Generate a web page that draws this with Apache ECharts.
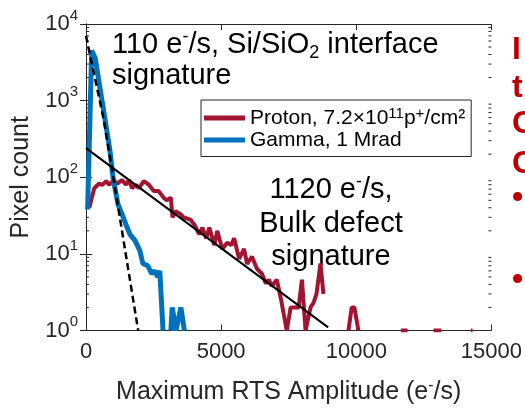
<!DOCTYPE html>
<html>
<head>
<meta charset="utf-8">
<script src="https://cdn.jsdelivr.net/npm/echarts@6.0.0/dist/echarts.min.js"></script>
<style>
  html, body { margin: 0; padding: 0; background: #fff; }
  #chart { width: 525px; height: 410px; }
</style>
</head>
<body>
<div id="chart"></div>
<script>
const FONT = 'Liberation Sans, Arial, sans-serif'
const AXIS_COLOR = '#262626'

const xTicks = [0, 5000, 10000, 15000]
const yDecades = [1, 10, 100, 1000, 10000]

// proton, 7.2e11 p+/cm2  ('-' = empty bin, line breaks)
const protonAmp = [
  121, 305, 488, 598, 745, 855, 1039, 1149, 1332, 1479, 1590, 1700, 1847, 1957,
  2140, 2324, 2508, 2691, 2875, 2985, 3140, 3200, 3315, 3498, 3609, 3866, 4012,
  4190, 4306, 4453, 4563, 4747, 4857, 5040, 5224, 5371, 5481, 5665, 5848, 5958,
  6142, 6325, 6509, 6656, 6766, 6876, 7060, 7220, 7427, 7573, 7684, 7867, 7990,
  8124, 8308, 8418, 8528, 8675, 8785, 9200, 9710, 9830, 9930, 10080, 10900,
  11650, 11900, 12400, 12860, 13150, 13700, 14240, 14300
]
const protonCount = [
  40, 72, 83, 79, 89, 80, 92, 82, 92, 80, 92, 72, 80, 72,
  89, 80, 66, 66, 54, 50, 54, 30, 36, 33, 30, 28, 24,
  18, 22, 16, 22, 13, 20, 11.6, 14, 13, 16, 8.6, 11.6, 7.4,
  9.2, 6.4, 5.5, 4.1, 4.6, 3.8, 4.6, 2.5, 1, 2, 2, 2, 4.6,
  1, 2, 2.3, 3, 7.5, 3, '-', 1, 2, 2, 1, '-',
  1, 1, '-', 1, 1, '-', 1, 1
]

// gamma, 1 Mrad
const gammaAmp = [
  60, 210, 340, 525, 708, 892, 1002, 1186, 1333, 1479, 1626, 1810, 1993, 2103,
  2287, 2434, 2544, 2654, 2730, 2850, 3000, 3140, 3190, 3330, 3510, 3640
]
const gammaCount = [
  38, 4500, 3600, 1400, 560, 215, 97, 44, 33, 24, 18, 15, 11, 7.5,
  7, 5.5, 6, 5, 6, 1, '-', 1, 2, 1, 2, 1
]

// exponential fits
const bulkFitAmp = [0, 8960]
const bulkFitCount = [240, 1.1]
const interfaceFitAmp = [0, 650, 1000, 1930]
const interfaceFitCount = [7000, 580, 105, 1]

const pairs = (xs, ys) => xs.map((x, i) => [x, ys[i]])

const supRich = {
  n: { fontSize: 21, fontFamily: FONT, color: '#000', lineHeight: 24 },
  s: { fontSize: 15, fontFamily: FONT, color: '#000', verticalAlign: 'top', lineHeight: 13 }
}
const legendLabels = {
  Proton: '{n|Proton, 7.2×10}{s|11}{n|p}{s|+}{n|/cm²}',
  Gamma: '{n|Gamma, 1 Mrad}'
}

const option = {
  animation: false,
  backgroundColor: '#fff',
  textStyle: { fontFamily: FONT },
  grid: { left: 86, right: 31, top: 24, bottom: 75 },
  legend: {
    data: [
      { name: 'Proton', icon: 'rect' },
      { name: 'Gamma', icon: 'rect' }
    ],
    orient: 'vertical',
    left: 201,
    top: 100,
    padding: [6, 6, 6, 3],
    itemGap: 1,
    itemWidth: 41,
    itemHeight: 5,
    borderColor: AXIS_COLOR,
    borderWidth: 1,
    backgroundColor: '#fff',
    formatter: name => legendLabels[name],
    textStyle: { padding: [0, 0, 0, 0], rich: supRich }
  },
  xAxis: [
    {
      type: 'value', min: 0, max: 15000, interval: 5000,
      name: '{n|Maximum RTS Amplitude (e}{s|-}{n|/s)}',
      nameLocation: 'middle', nameGap: 47,
      nameTextStyle: {
        rich: {
          n: { fontSize: 25, fontFamily: FONT, color: AXIS_COLOR, lineHeight: 30 },
          s: { fontSize: 16, fontFamily: FONT, color: AXIS_COLOR, verticalAlign: 'top', lineHeight: 14 }
        }
      },
      axisLine: { lineStyle: { color: AXIS_COLOR, width: 1 } },
      axisTick: { inside: true, length: 6, lineStyle: { color: AXIS_COLOR } },
      axisLabel: {
        fontSize: 22, color: AXIS_COLOR, margin: 10, fontFamily: FONT,
        showMaxLabel: true, formatter: v => String(v)
      },
      splitLine: { show: false }
    },
    {
      type: 'value', min: 0, max: 15000, interval: 5000, position: 'top',
      axisLine: { show: true, lineStyle: { color: AXIS_COLOR, width: 1 } },
      axisTick: { inside: true, length: 6, lineStyle: { color: AXIS_COLOR } },
      axisLabel: { show: false },
      splitLine: { show: false }
    }
  ],
  yAxis: [
    {
      type: 'log', logBase: 10, min: 1, max: 10000,
      name: 'Pixel count', nameLocation: 'middle', nameGap: 52,
      nameTextStyle: { fontSize: 25, color: AXIS_COLOR, fontFamily: FONT },
      axisLine: { show: true, lineStyle: { color: AXIS_COLOR, width: 1 } },
      axisTick: { inside: true, length: 6, lineStyle: { color: AXIS_COLOR } },
      axisLabel: {
        margin: 8,
        formatter: v => '{b|10}{s|' + Math.round(Math.log10(v)) + '}',
        rich: {
          b: { fontSize: 22, fontFamily: FONT, color: AXIS_COLOR, lineHeight: 32 },
          s: { fontSize: 15, fontFamily: FONT, color: AXIS_COLOR, verticalAlign: 'top', lineHeight: 15 }
        }
      },
      splitLine: { show: false }
    },
    {
      type: 'log', logBase: 10, min: 1, max: 10000, position: 'right',
      axisLine: { show: true, lineStyle: { color: AXIS_COLOR, width: 1 } },
      axisTick: { inside: true, length: 6, lineStyle: { color: AXIS_COLOR } },
      axisLabel: { show: false },
      splitLine: { show: false }
    }
  ],
  series: [
    {
      name: 'Proton', type: 'line', data: pairs(protonAmp, protonCount),
      symbol: 'none', connectNulls: false,
      lineStyle: { color: '#A2142F', width: 4 }, itemStyle: { color: '#A2142F' }
    },
    {
      name: 'Gamma', type: 'line', data: pairs(gammaAmp, gammaCount),
      symbol: 'none', connectNulls: false,
      lineStyle: { color: '#0072BD', width: 5 }, itemStyle: { color: '#0072BD' }
    },
    {
      name: 'Bulk fit', type: 'line', data: pairs(bulkFitAmp, bulkFitCount),
      symbol: 'none', lineStyle: { color: '#000', width: 2 }
    },
    {
      name: 'Interface fit', type: 'line', data: pairs(interfaceFitAmp, interfaceFitCount),
      symbol: 'none', lineStyle: { color: '#000', width: 2.5, type: [7, 4] }
    }
  ]
}

const chart = echarts.init(document.getElementById('chart'), null, { renderer: 'canvas' })
chart.setOption(option)

// annotations, minor log ticks, and cropped slide text on the right
const annRich = {
  n: { fontSize: 29, fontFamily: FONT, color: '#000', lineHeight: 34 },
  s: { fontSize: 18, fontFamily: FONT, color: '#000', verticalAlign: 'top', lineHeight: 16 },
  d: { fontSize: 18, fontFamily: FONT, color: '#000', verticalAlign: 'bottom', lineHeight: 14 }
}
const graphics = [
  { type: 'text', left: 112, top: 28, silent: true,
    style: { text: '{n|110 e}{s|-}{n|/s, Si/SiO}{d|2}{n| interface}', rich: annRich } },
  { type: 'text', left: 112, top: 61, silent: true,
    style: { text: '{n|signature}', rich: annRich } },
  { type: 'text', x: 331, y: 190, silent: true,
    style: { text: '{n|1120 e}{s|-}{n|/s,}', rich: annRich, align: 'center', verticalAlign: 'middle' } },
  { type: 'text', x: 331, y: 224, silent: true,
    style: { text: 'Bulk defect', font: '29px ' + FONT, fill: '#000', align: 'center', verticalAlign: 'middle' } },
  { type: 'text', x: 331, y: 257, silent: true,
    style: { text: 'signature', font: '29px ' + FONT, fill: '#000', align: 'center', verticalAlign: 'middle' } }
]
const redBits = [['I', 50], ['t', 88], ['C', 124], ['C', 164], ['•', 198], ['•', 280]]
redBits.forEach(([t, y]) => graphics.push({
  type: 'text', x: 512, y: y, silent: true,
  style: { text: t, font: 'bold 32px ' + FONT, fill: '#C00000', verticalAlign: 'middle' }
}))

const xL = chart.convertToPixel({ xAxisIndex: 0 }, 0)
const xR = chart.convertToPixel({ xAxisIndex: 0 }, 15000)
for (let k = 0; k < 4; k++) {
  for (let m = 2; m <= 9; m++) {
    const y = chart.convertToPixel({ yAxisIndex: 0 }, m * Math.pow(10, k))
    graphics.push({ type: 'line', silent: true, shape: { x1: xL, y1: y, x2: xL + 3, y2: y }, style: { stroke: AXIS_COLOR, lineWidth: 1 } })
    graphics.push({ type: 'line', silent: true, shape: { x1: xR - 3, y1: y, x2: xR, y2: y }, style: { stroke: AXIS_COLOR, lineWidth: 1 } })
  }
}
chart.setOption({ graphic: graphics })
</script>
</body>
</html>
